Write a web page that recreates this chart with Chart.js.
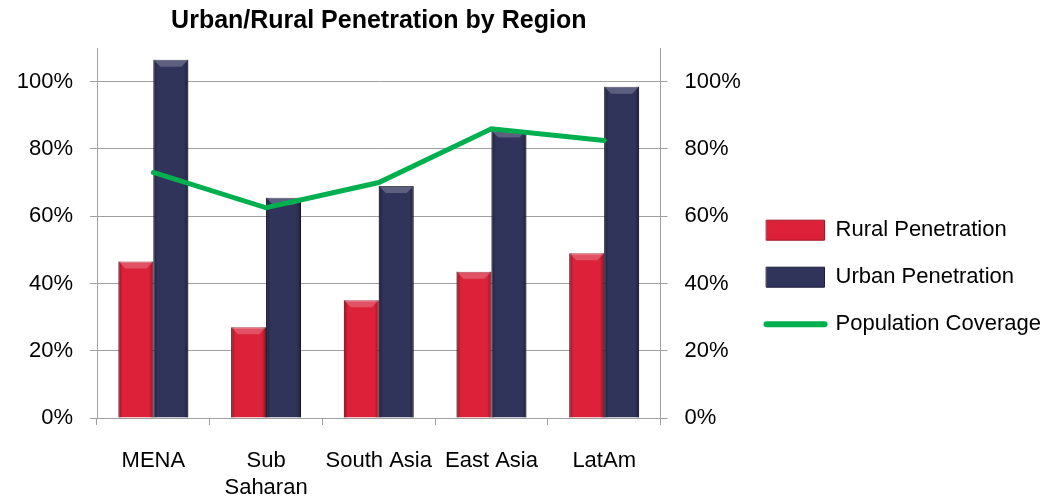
<!DOCTYPE html>
<html>
<head>
<meta charset="utf-8">
<script src="https://cdn.jsdelivr.net/npm/chart.js@4.4.1/dist/chart.umd.min.js"></script>
<style>
  html, body { margin: 0; padding: 0; background: #fff; }
  .chart-box { width: 1048px; height: 502px; }
</style>
</head>
<body>
<div class="chart-box"><canvas id="penetrationChart"></canvas></div>
<script>
const regions = ["MENA", ["Sub", "Saharan"], "South Asia", "East Asia", "LatAm"];
const ruralPenetration = [46.5, 27, 35, 43.5, 49];
const urbanPenetration = [106.5, 65.5, 69, 85.5, 98.5];
const populationCoverage = [73, 62.5, 70, 86, 82.5];
const tickValues = [0, 20, 40, 60, 80, 100];

const labelFont = "'Liberation Sans', Arial, sans-serif";
const gridGray = "#a0a0a0";

const ctx = document.getElementById("penetrationChart").getContext("2d");

// shade the bars a bit so they look like the bevelled office bars
const bevelBars = {
  id: "bevelBars",
  afterDatasetDraw(chart, args) {
    const meta = args.meta;
    if (meta.type !== "bar") return;
    const c = chart.ctx;
    c.save();
    meta.data.forEach((bar) => {
      const left = bar.x - bar.width / 2;
      const top = Math.min(bar.y, bar.base);
      const h = Math.abs(bar.base - bar.y);
      const g = c.createLinearGradient(left, 0, left + bar.width, 0);
      g.addColorStop(0, "rgba(0,0,0,0.35)");
      g.addColorStop(0.12, "rgba(0,0,0,0)");
      g.addColorStop(0.88, "rgba(0,0,0,0)");
      g.addColorStop(1, "rgba(0,0,0,0.35)");
      c.fillStyle = g;
      c.fillRect(left, top, bar.width, h);
      c.fillStyle = "rgba(255,255,255,0.22)";
      c.beginPath();
      c.moveTo(left, top);
      c.lineTo(left + bar.width, top);
      c.lineTo(left + bar.width - 7, top + 7);
      c.lineTo(left + 7, top + 7);
      c.closePath();
      c.fill();
    });
    c.restore();
  },
};

const percentTicks = {
  color: "#000",
  font: { family: labelFont, size: 22 },
  padding: 17,
  callback: (value) => value + "%",
};

new Chart(ctx, {
  data: {
    labels: regions,
    datasets: [
      {
        type: "line",
        label: "Population Coverage",
        data: populationCoverage,
        borderColor: "#00b04f",
        backgroundColor: "#00b04f",
        borderWidth: 5,
        pointRadius: 0,
        tension: 0,
        borderCapStyle: "round",
        yAxisID: "y",
        order: 0,
      },
      {
        type: "bar",
        label: "Rural Penetration",
        data: ruralPenetration,
        backgroundColor: "#dc2139",
        borderColor: "#a01628",
        borderWidth: 1,
        yAxisID: "y",
        order: 1,
      },
      {
        type: "bar",
        label: "Urban Penetration",
        data: urbanPenetration,
        backgroundColor: "#30335a",
        borderColor: "#1c1d38",
        borderWidth: 1,
        yAxisID: "y",
        order: 1,
      },
    ],
  },
  options: {
    responsive: true,
    maintainAspectRatio: false,
    animation: false,
    layout: { padding: { top: 6, right: -3, bottom: 0, left: 8 } },
    datasets: {
      bar: { categoryPercentage: 0.62, barPercentage: 1 },
    },
    scales: {
      x: {
        offset: true,
        afterFit: (scale) => { scale.height = 84; },
        grid: {
          offset: true,
          drawOnChartArea: false,
          color: gridGray,
          tickLength: 7,
        },
        border: { color: gridGray },
        ticks: {
          color: "#000",
          font: { family: labelFont, size: 22 },
          padding: 23,
          maxRotation: 0,
        },
      },
      y: {
        position: "left",
        min: 0,
        max: 110,
        afterFit: (scale) => { scale.width = 89; },
        afterBuildTicks: (scale) => {
          scale.ticks = tickValues.map((v) => ({ value: v }));
        },
        grid: { color: gridGray, tickLength: 7 },
        border: { color: gridGray },
        ticks: percentTicks,
      },
      y2: {
        position: "right",
        min: 0,
        max: 110,
        afterFit: (scale) => { scale.width = 81; },
        afterBuildTicks: (scale) => {
          scale.ticks = tickValues.map((v) => ({ value: v }));
        },
        grid: { drawOnChartArea: false, color: gridGray, tickLength: 7 },
        border: { color: gridGray },
        ticks: percentTicks,
      },
    },
    plugins: {
      title: {
        display: true,
        fullSize: false,
        text: "Urban/Rural Penetration by Region",
        color: "#000",
        font: { family: labelFont, size: 25, weight: "bold" },
        padding: { top: 0, bottom: 12 },
      },
      legend: {
        position: "right",
        maxWidth: 400,
        title: {
          display: true,
          text: " ",
          font: { family: labelFont, size: 22 },
          padding: { top: 0, bottom: 20 },
        },
        labels: {
          usePointStyle: true,
          pointStyleWidth: 58,
          boxWidth: 58,
          boxHeight: 20,
          padding: 25,
          color: "#000",
          font: { family: labelFont, size: 22 },
          generateLabels: (chart) =>
            [1, 2, 0].map((i) => {
              const ds = chart.data.datasets[i];
              const isLine = ds.type === "line";
              return {
                text: ds.label,
                datasetIndex: i,
                fillStyle: ds.backgroundColor,
                strokeStyle: ds.borderColor,
                fontColor: "#000",
                lineWidth: isLine ? 6 : 1,
                lineCap: "round",
                pointStyle: isLine ? "line" : "rect",
                hidden: false,
              };
            }),
        },
      },
      tooltip: { enabled: false },
    },
  },
  plugins: [bevelBars],
});
</script>
</body>
</html>
